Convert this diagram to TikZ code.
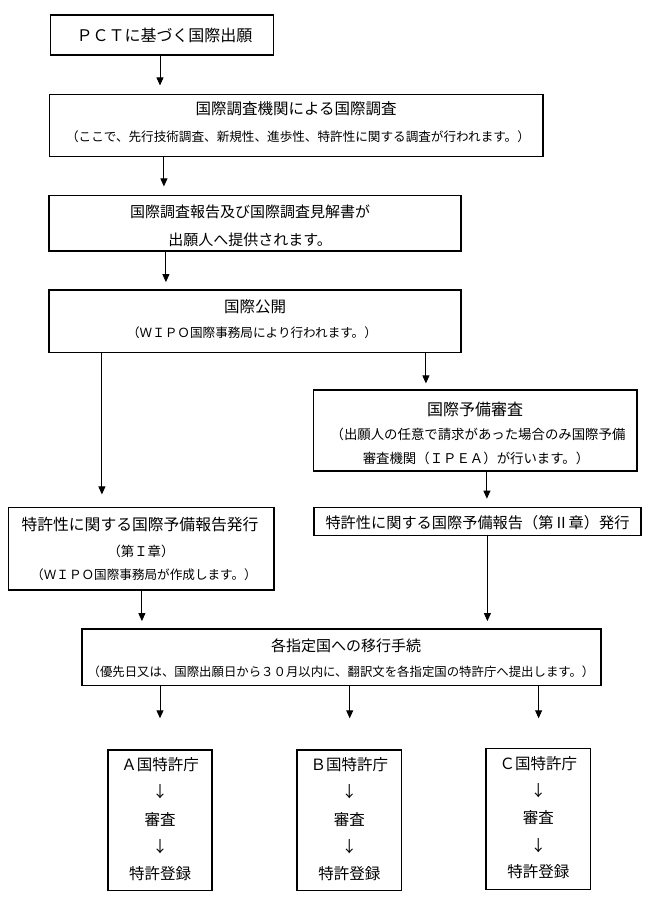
\documentclass[tikz,border=0pt]{standalone}
\usepackage{fontspec}
\newfontfamily\jp{Noto Sans CJK JP}
\usetikzlibrary{arrows.meta}
\begin{document}
\begin{tikzpicture}[x=1pt,y=-1pt,
  box/.style={draw, line width=1.2pt, inner sep=0pt},
  txt/.style={inner sep=0pt, font=\jp\fontsize{#1pt}{#1pt}\selectfont,
    text height={0.88*#1pt}, text depth={0.12*#1pt}},
  txt/.default=15.5,
  arr/.style={line width=0.9pt, -{Triangle[length=8pt,width=7pt]}}
]
\path[use as bounding box, fill=white] (0,0) rectangle (667,911);

% boxes
\node[box, minimum width=222.8pt, minimum height=40pt]   (b1) at (162.1,35) {};
\node[box, minimum width=493.8pt, minimum height=62.4pt] (b2) at (296.1,125.5) {};
\node[box, minimum width=412pt,   minimum height=55.3pt] (b3) at (255,223.35) {};
\node[box, minimum width=412pt,   minimum height=62.3pt] (b4) at (255,321.15) {};
\node[box, minimum width=323.7pt, minimum height=81pt]   (b5) at (475.15,430.5) {};
\node[box, minimum width=265.6pt, minimum height=82.3pt] (b6) at (141.2,548.85) {};
\node[box, minimum width=327pt,   minimum height=28pt]   (b7) at (477.5,521.7) {};
\node[box, minimum width=519pt,   minimum height=56.7pt] (b8) at (341.5,657.35) {};
\node[box, minimum width=104pt,   minimum height=140.7pt] (ba) at (160,820.35) {};
\node[box, minimum width=104.7pt, minimum height=140.7pt] (bb) at (349.35,820.35) {};
\node[box, minimum width=104.6pt, minimum height=140.6pt] (bc) at (538.3,819) {};

% texts
\node[txt=16] (t1) at (164.5,35) {ＰＣＴに基づく国際出願};
\node[txt] (t2a) at (296.1,109) {国際調査機関による国際調査};
\node[txt=12.6] (t2b) at (298,137) {（ここで、先行技術調査、新規性、進歩性、特許性に関する調査が行われます。）};
\node[txt=15] (t3a) at (250,212) {国際調査報告及び国際調査見解書が};
\node[txt=15] (t3b) at (250,240) {出願人へ提供されます。};
\node[txt] (t4a) at (255,306.7) {国際公開};
\node[txt=12.6] (t4b) at (252,333) {（ＷＩＰＯ国際事務局により行われます。）};
\node[txt=16] (t5a) at (475.15,409.3) {国際予備審査};
\node[txt=13.4] (t5b) at (478,434) {（出願人の任意で請求があった場合のみ国際予備};
\node[txt=13.4] (t5c) at (476,458.3) {審査機関（ＩＰＥＡ）が行います。）};
\node[txt=15.8] (t6a) at (140,524.3) {特許性に関する国際予備報告発行};
\node[txt=13.4] (t6b) at (141,551.7) {（第Ｉ章）};
\node[txt=12.6] (t6c) at (144,575) {（ＷＩＰＯ国際事務局が作成します。）};
\node[txt=15.2] (t7) at (477.5,522.5) {特許性に関する国際予備報告（第Ⅱ章）発行};
\node[txt=15] (t8a) at (346,646) {各指定国への移行手続};
\node[txt=12.4] (t8b) at (341,671.7) {（優先日又は、国際出願日から３０月以内に、翻訳文を各指定国の特許庁へ提出します。）};

\foreach \b/\l in {ba/Ａ, bb/Ｂ, bc/Ｃ}{
  \node[txt] (\b1) at ([yshift=55.35pt]\b.center) {\l 国特許庁};
  \node[txt] (\b2) at ([yshift=28.65pt]\b.center) {↓};
  \node[txt] (\b3) at ([yshift=1pt]\b.center) {審査};
  \node[txt] (\b4) at ([yshift=-26.35pt]\b.center) {↓};
  \node[txt] (\b5) at ([yshift=-52.95pt]\b.center) {特許登録};
}

% connectors
\draw[arr, shorten >=8.3pt] ([xshift=-2.1pt]b1.south) -- ([xshift=-2.1pt]b1.south |- b2.north);
\draw[arr, shorten >=8.7pt] ([xshift=115.3pt]b2.south west) -- ([xshift=115.3pt]b2.south west |- b3.north);
\draw[arr, shorten >=7.3pt] ([xshift=117.5pt]b3.south west) -- ([xshift=117.5pt]b3.south west |- b4.north);
\draw[arr, shorten >=12.7pt] ([xshift=53.5pt]b4.south west) -- ([xshift=53.5pt]b4.south west |- b6.north);
\draw[arr, shorten >=6pt] ([xshift=377.5pt]b4.south west) -- ([xshift=377.5pt]b4.south west |- b5.north);
\draw[arr, shorten >=8.4pt] ([xshift=174.2pt]b5.south west) -- ([xshift=174.2pt]b5.south west |- b7.north);
\draw[arr, shorten >=7.3pt] ([xshift=134.1pt]b6.south west) -- ([xshift=134.1pt]b6.south west |- b8.north);
\draw[arr, shorten >=7.3pt] ([xshift=174pt]b7.south west) -- ([xshift=174pt]b7.south west |- b8.north);

\coordinate (ta) at (160,718.3);
\coordinate (tb) at (349.7,718.3);
\coordinate (tc) at (538.6,718.3);
\draw[arr] (b8.south -| ta) -- (ta);
\draw[arr] (b8.south -| tb) -- (tb);
\draw[arr] (b8.south -| tc) -- (tc);
\end{tikzpicture}
\end{document}
